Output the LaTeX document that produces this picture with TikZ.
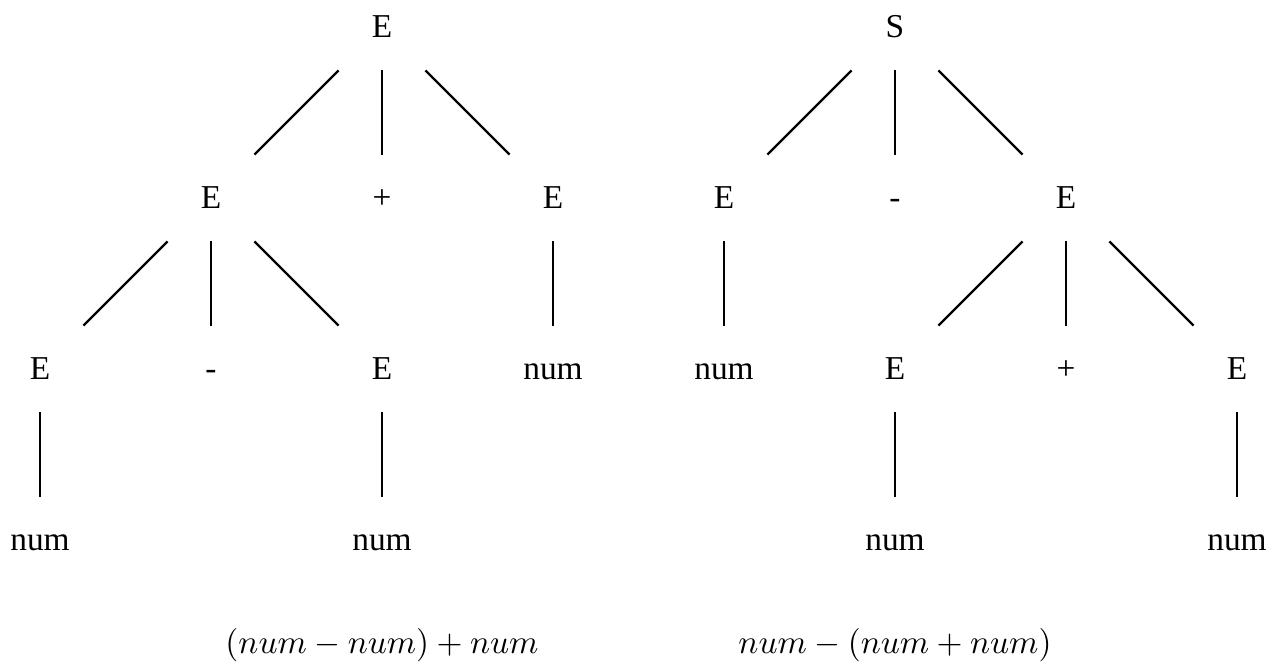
\documentclass[tikz,border=0pt]{standalone}
\usepackage{fontspec}
\setmainfont{Liberation Serif}
\usepackage{amsmath}
\usetikzlibrary{positioning}

\begin{document}
\begin{tikzpicture}[
    every node/.style={font=\normalsize},
    sym/.style={rectangle, minimum size=0.9cm, inner sep=0pt, text height=6.5pt, text depth=0pt},
    branch/.style={line width=0.7pt},
    captxt/.style={anchor=base}
]
\useasboundingbox (-0.421, 0.284) rectangle (12.958, -6.684);

% left tree
\node[sym] (lroot) at (3.6, 0) {E};

\node[sym] (lE1)   at (1.8, -1.8) {E};
\node[sym] (lplus) at (3.6, -1.8) {+};
\node[sym] (lE2)   at (5.4, -1.8) {E};

\node[sym] (lE11)   at (0, -3.6) {E};
\node[sym] (lminus) at (1.8, -3.6) {-};
\node[sym] (lE12)   at (3.6, -3.6) {E};
\node[sym] (lnum2)  at (5.4, -3.6) {num};

\node[sym] (lnum11) at (0, -5.4) {num};
\node[sym] (lnum12) at (3.6, -5.4) {num};

\draw[branch] (lroot) -- (lE1);
\draw[branch] (lroot) -- (lplus);
\draw[branch] (lroot) -- (lE2);
\draw[branch] (lE1) -- (lE11);
\draw[branch] (lE1) -- (lminus);
\draw[branch] (lE1) -- (lE12);
\draw[branch] (lE2) -- (lnum2);
\draw[branch] (lE11) -- (lnum11);
\draw[branch] (lE12) -- (lnum12);

% right tree
\node[sym] (rroot) at (9.0, 0) {S};

\node[sym] (rE1)    at (7.2, -1.8) {E};
\node[sym] (rminus) at (9.0, -1.8) {-};
\node[sym] (rE2)    at (10.8, -1.8) {E};

\node[sym] (rnum1) at (7.2, -3.6) {num};
\node[sym] (rE21)  at (9.0, -3.6) {E};
\node[sym] (rplus) at (10.8, -3.6) {+};
\node[sym] (rE22)  at (12.6, -3.6) {E};

\node[sym] (rnum21) at (9.0, -5.4) {num};
\node[sym] (rnum22) at (12.6, -5.4) {num};

\draw[branch] (rroot) -- (rE1);
\draw[branch] (rroot) -- (rminus);
\draw[branch] (rroot) -- (rE2);
\draw[branch] (rE1) -- (rnum1);
\draw[branch] (rE2) -- (rE21);
\draw[branch] (rE2) -- (rplus);
\draw[branch] (rE2) -- (rE22);
\draw[branch] (rE21) -- (rnum21);
\draw[branch] (rE22) -- (rnum22);

% captions
\node[captxt] (lcap) at (3.6, -6.59) {$(num - num) + num$};
\node[captxt] (rcap) at (9.0, -6.59) {$num - (num + num)$};

\end{tikzpicture}
\end{document}
